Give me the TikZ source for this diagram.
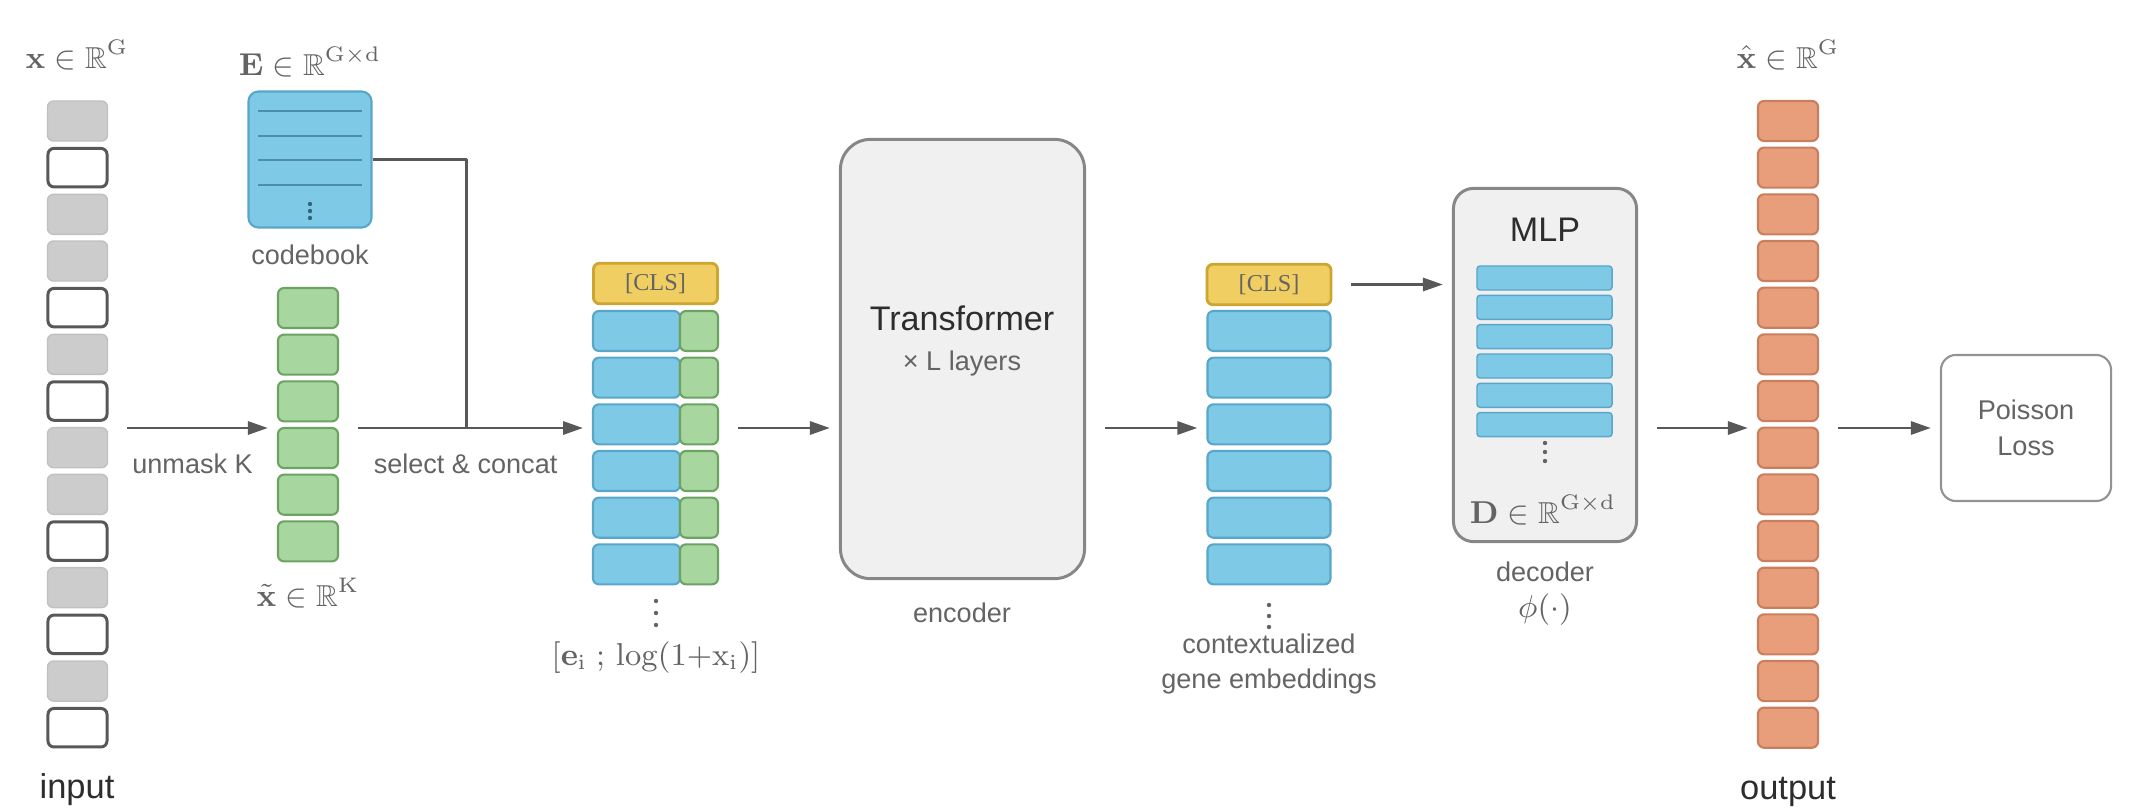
\documentclass[tikz,border=0pt]{standalone}
\usepackage{amsmath}
\usepackage{amssymb}
\usepackage[no-math]{fontspec}
\setmainfont{Liberation Sans}
\newfontfamily\clsfont{Liberation Serif}
\usetikzlibrary{arrows.meta,positioning}

\definecolor{txtgray}{RGB}{100,100,100}
\definecolor{txtdark}{RGB}{45,45,45}
\definecolor{linegray}{RGB}{88,88,88}
\definecolor{boxgray}{RGB}{135,135,135}
\definecolor{boxfill}{RGB}{240,240,240}
\definecolor{cellgray}{RGB}{204,204,204}
\definecolor{bluefill}{RGB}{126,201,230}
\definecolor{blueline}{RGB}{88,166,200}
\definecolor{greenfill}{RGB}{167,215,158}
\definecolor{greenline}{RGB}{108,163,98}
\definecolor{clsfill}{RGB}{240,206,98}
\definecolor{clsline}{RGB}{204,166,48}
\definecolor{orangefill}{RGB}{233,158,123}
\definecolor{orangeline}{RGB}{201,126,94}

\tikzset{
  cell/.style={rectangle, rounded corners=0.06cm, minimum width=0.6cm, minimum height=0.4cm, inner sep=0pt},
  hidden/.style={cell, draw=linegray, line width=0.85pt, fill=white, minimum width=0.59cm, minimum height=0.385cm},
  seen/.style={cell, draw=cellgray!94!black, line width=0.4pt, fill=cellgray},
  gene/.style={cell, draw=greenline, line width=0.6pt, fill=greenfill},
  outcell/.style={cell, draw=orangeline, line width=0.6pt, fill=orangefill},
  emb/.style={cell, draw=blueline, line width=0.6pt, fill=bluefill, minimum width=1.23cm},
  cls/.style={cell, draw=clsline, line width=0.8pt, fill=clsfill, minimum width=1.24cm, minimum height=0.405cm,
    text=txtgray, font=\clsfont\fontsize{6.9}{8}\selectfont},
  bar/.style={rectangle, rounded corners=0.03cm, draw=blueline, line width=0.4pt, fill=bluefill,
    minimum width=1.35cm, minimum height=0.24cm, inner sep=0pt},
  block/.style={rectangle, draw=boxgray, line width=0.85pt, fill=boxfill, inner sep=0pt},
  lbl/.style={text=txtgray, font=\fontsize{7.7}{10.2}\selectfont, inner sep=0pt, align=center},
  biglbl/.style={text=txtdark, font=\fontsize{9.8}{12}\selectfont, inner sep=0pt},
  titlelbl/.style={text=txtdark, font=\fontsize{9.7}{12}\selectfont, inner sep=0pt},
  mathlbl/.style={text=txtgray, font=\fontsize{8.6}{10}\selectfont, inner sep=0pt},
  arr/.style={draw=linegray, line width=0.85pt, -{Triangle[length=0.2cm, width=0.13cm]},
    shorten <=0.19cm, shorten >=0.09cm},
  link/.style={draw=linegray, line width=0.85pt},
}

\newcommand\vdts[4]{\foreach \j in {-1,0,1} \fill[#4] (#1,{#2+\j*#3}) circle (0.022cm);}

\begin{document}
\begin{tikzpicture}[x=0.01cm, y=-0.01cm, line join=round]
    \useasboundingbox (0,0) rectangle (2136,812);

    % input genes, masked and unmasked
    \foreach \i/\k in {1/seen,2/hidden,3/seen,4/seen,5/hidden,6/seen,7/hidden,8/seen,9/seen,10/hidden,11/seen,12/hidden,13/seen,14/hidden}
        \node[\k] (in\i) at (77.5,{121+46.67*(\i-1)}) {};
    \node[mathlbl] (xlbl) at (77,55) {$\mathbf{x}\in\mathbb{R}^{\mathrm{G}}$};
    \node[biglbl] (inlbl) at (77,790) {input};

    % codebook
    \node[block, draw=blueline, fill=bluefill, line width=0.6pt, rounded corners=0.1cm, minimum width=1.23cm, minimum height=1.36cm] (cb) at (310,159.5) {};
    \foreach \y in {111,136,160,185} \draw[blueline!85!black, line width=0.35pt] (258,\y) -- (362,\y);
    \vdts{310}{211}{7}{blueline!60!black}
    \node[mathlbl] (elbl) at (310,62) {$\mathbf{E}\in\mathbb{R}^{\mathrm{G\times d}}$};
    \node[lbl] (cblbl) at (310,255) {codebook};

    % unmasked values
    \foreach \i in {1,...,6} \node[gene] (g\i) at (308,{308+46.67*(\i-1)}) {};
    \node[mathlbl] (klbl) at (308,593) {$\tilde{\mathbf{x}}\in\mathbb{R}^{\mathrm{K}}$};

    % concatenated tokens
    \node[cls] (cls1) at (655.5,283.5) {[CLS]};
    \foreach \i in {1,...,6} {
        \node[emb, minimum width=0.87cm] (e\i) at (636.5,{331+46.67*(\i-1)}) {};
        \node[gene, minimum width=0.38cm] (v\i) at (699,{331+46.67*(\i-1)}) {};
    }
    \vdts{656}{613}{12}{txtgray}
    \node[mathlbl] (catlbl) at (656,658) {$[\mathbf{e}_{\mathrm{i}}\;;\,\log(1{+}\mathrm{x}_{\mathrm{i}})]$};

    % encoder
    \node[block, rounded corners=0.3cm, minimum width=2.44cm, minimum height=4.39cm] (tf) at (962.5,359) {};
    \node[titlelbl] (tftxt) at (962,318) {Transformer};
    \node[lbl] (ltxt) at (962,363) {× L layers};
    \node[lbl] (enclbl) at (962,613) {encoder};

    % contextualized embeddings
    \node[cls] (cls2) at (1269,284.5) {[CLS]};
    \foreach \i in {1,...,6} \node[emb] (c\i) at (1269,{331+46.67*(\i-1)}) {};
    \vdts{1269}{616}{11}{txtgray}
    \node[lbl] (ctxlbl) at (1269,664) {contextualized\\gene embeddings};

    % decoder
    \node[block, rounded corners=0.2cm, minimum width=1.83cm, minimum height=3.53cm] (mlp) at (1545,365) {};
    \node[titlelbl] (mlptxt) at (1545,230) {MLP};
    \foreach \i in {1,...,6} \node[bar] (d\i) at (1544.5,{278+29.33*(\i-1)}) {};
    \vdts{1545}{452}{9}{txtgray}
    \node[mathlbl] (dlbl) at (1543,510) {$\mathbf{D}\in\mathbb{R}^{\mathrm{G\times d}}$};
    \node[lbl] (declbl) at (1545,572) {decoder};
    \node[mathlbl] (philbl) at (1545,610) {$\phi(\cdot)$};

    % reconstruction
    \foreach \i in {1,...,14} \node[outcell] (o\i) at (1788,{121+46.67*(\i-1)}) {};
    \node[mathlbl] (xhlbl) at (1788,55) {$\hat{\mathbf{x}}\in\mathbb{R}^{\mathrm{G}}$};
    \node[biglbl] (outlbl) at (1788,792) {output};

    % loss
    \node[block, fill=white, draw=boxgray!90, line width=0.6pt, rounded corners=0.15cm, minimum width=1.7cm, minimum height=1.46cm,
        text=txtgray, font=\fontsize{7.7}{10.2}\selectfont, align=center] (loss) at (2026,428) {Poisson\\Loss};

    \coordinate (row) at (0,428);
    \coordinate (join) at (466,428);

    \draw[arr] (in1.east |- row) -- (g1.west |- row) node[lbl, midway, below=7pt] {unmask K};
    \draw[arr] (g1.east |- row) -- (cls1.west |- row) node[lbl, midway, below=7pt] {select \& concat};
    \draw[link] (cb.east) -| (join);
    \draw[arr] (v1.east |- row) -- (tf.west |- row);
    \draw[arr] (tf.east |- row) -- (c1.west |- row);
    \draw[arr] (cls2) -- (cls2 -| mlp.west);
    \draw[arr] (mlp.east |- row) -- (o1.west |- row);
    \draw[arr] (o1.east |- row) -- (loss);
\end{tikzpicture}
\end{document}
